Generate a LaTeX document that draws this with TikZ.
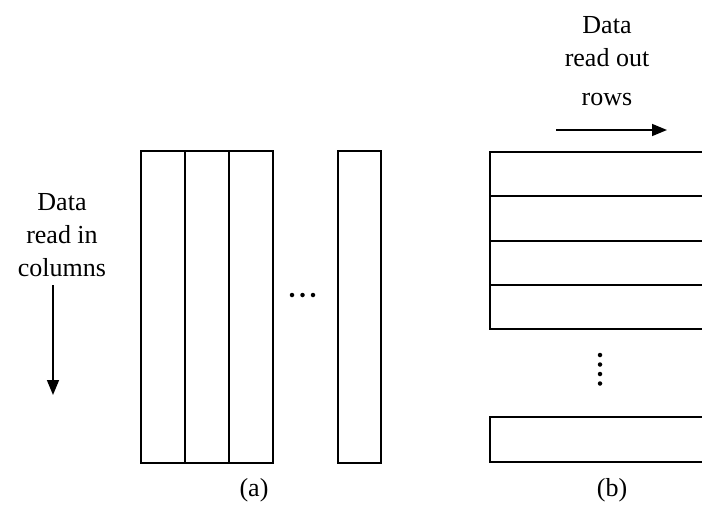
\documentclass[tikz,border=0pt]{standalone}
\usepackage{fontspec}
\setmainfont{Liberation Serif}
\usetikzlibrary{arrows.meta}
\begin{document}
\begin{tikzpicture}[x=1pt,y=-1pt,
  cell/.style={draw,line width=2.4pt,inner sep=0pt,outer sep=0pt},
  lbl/.style={font=\fontsize{26}{33}\selectfont,align=center,inner sep=0pt},
  flow/.style={line width=1.6pt,-{Triangle[length=15pt,width=12pt]}},
  dotmark/.style={circle,fill,inner sep=0pt,minimum size=4.5pt}]
\useasboundingbox (0,0) rectangle (702,509);
\clip (0,0) rectangle (702,509);
% (a): columns written in one after another
\node[cell,minimum width=44pt,minimum height=312pt] (c1) at (163,307) {};
\node[cell,minimum width=44pt,minimum height=312pt] (c2) at (207,307) {};
\node[cell,minimum width=44pt,minimum height=312pt] (c3) at (251,307) {};
\node[cell,minimum width=43pt,minimum height=312pt] (c4) at (359.5,307) {};
\node[dotmark] (h1) at (292,295) {};
\node[dotmark] (h2) at (302.5,295) {};
\node[dotmark] (h3) at (313,295) {};
\node[lbl] (ta) at (62,235) {Data\\read in\\columns};
\coordinate (a0) at (53,285);
\coordinate (a1) at (53,395);
\draw[flow] (a0) -- (a1);
\node[lbl] (la) at (254,490) {(a)};
% (b): rows read out one after another
\node[cell,anchor=north west,minimum width=260pt,minimum height=44pt] (r1) at (490,152) {};
\node[cell,anchor=north west,minimum width=260pt,minimum height=45pt] (r2) at (490,196) {};
\node[cell,anchor=north west,minimum width=260pt,minimum height=44pt] (r3) at (490,241) {};
\node[cell,anchor=north west,minimum width=260pt,minimum height=44pt] (r4) at (490,285) {};
\node[cell,anchor=north west,minimum width=260pt,minimum height=45pt] (r5) at (490,417) {};
\node[dotmark] (v1) at (600,355) {};
\node[dotmark] (v2) at (600,364.5) {};
\node[dotmark] (v3) at (600,374) {};
\node[dotmark] (v4) at (600,383.5) {};
\node[lbl] (tb) at (607,61) {Data\\read out\\[6pt]rows};
\coordinate (b0) at (556,130);
\coordinate (b1) at (667,130);
\draw[flow] (b0) -- (b1);
\node[lbl] (lb) at (612,490) {(b)};
\end{tikzpicture}
\end{document}
